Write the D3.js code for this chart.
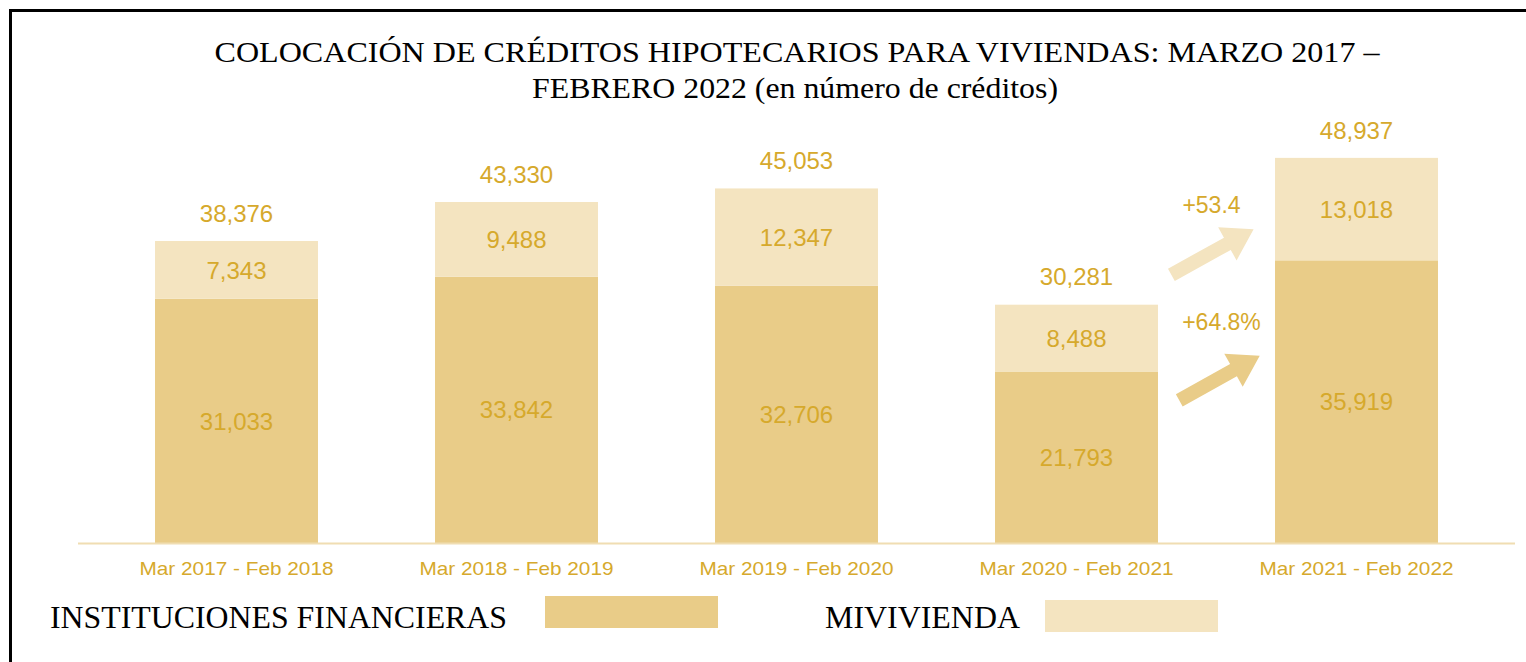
<!DOCTYPE html>
<html>
<head>
<meta charset="utf-8">
<script src="https://cdn.jsdelivr.net/npm/d3@7"></script>
<style>
  body { margin: 0; background: #fff; }
  svg { display: block; }
</style>
</head>
<body>
<div id="chart"></div>
<script>
// data
var periods = ["Mar 2017 - Feb 2018", "Mar 2018 - Feb 2019", "Mar 2019 - Feb 2020", "Mar 2020 - Feb 2021", "Mar 2021 - Feb 2022"];
var instituciones = [31033, 33842, 32706, 21793, 35919];
var mivivienda = [7343, 9488, 12347, 8488, 13018];
var totales = [38376, 43330, 45053, 30281, 48937];
var growthLabels = ["+53.4", "+64.8%"];

var width = 1526, height = 662;
var darkColor = "#e9cc88", lightColor = "#f4e4c0", textColor = "#d6a92c";

var svg = d3.select("#chart").append("svg")
	.attr("width", width)
	.attr("height", height);

// frame (only top and left edges visible)
svg.append("rect")
	.attr("x", 10.5).attr("y", 10.5)
	.attr("width", 1700).attr("height", 900)
	.attr("fill", "none")
	.attr("stroke", "#000")
	.attr("stroke-width", 3);

// title
var title = svg.append("text")
	.attr("text-anchor", "middle")
	.style("font-family", "'Liberation Serif', 'Times New Roman', serif")
	.style("font-size", "30px")
	.attr("fill", "#000");
title.append("tspan").attr("x", 797).attr("y", 62)
	.attr("textLength", 1165).attr("lengthAdjust", "spacingAndGlyphs")
	.text("COLOCACIÓN DE CRÉDITOS HIPOTECARIOS PARA VIVIENDAS: MARZO 2017 –");
title.append("tspan").attr("x", 795).attr("y", 98)
	.attr("textLength", 526).attr("lengthAdjust", "spacingAndGlyphs")
	.text("FEBRERO 2022 (en número de créditos)");

var x = d3.scaleBand()
	.domain(periods)
	.range([96.5, 1496.5])
	.paddingInner(0.418)
	.paddingOuter(0.209);
var y = d3.scaleLinear()
	.domain([0, 50000])
	.range([543, 149.5]);

var bw = x.bandwidth();

// bars
svg.selectAll(".inst")
	.data(periods)
	.enter().append("rect")
	.attr("class", "inst")
	.attr("x", function(d) { return x(d); })
	.attr("y", function(d, i) { return y(instituciones[i]); })
	.attr("width", bw)
	.attr("height", function(d, i) { return y(0) - y(instituciones[i]); })
	.attr("fill", darkColor);

svg.selectAll(".miv")
	.data(periods)
	.enter().append("rect")
	.attr("class", "miv")
	.attr("x", function(d) { return x(d); })
	.attr("y", function(d, i) { return y(instituciones[i] + mivivienda[i]); })
	.attr("width", bw)
	.attr("height", function(d, i) { return y(instituciones[i]) - y(instituciones[i] + mivivienda[i]); })
	.attr("fill", lightColor);

// x axis
var xAxis = svg.append("g")
	.attr("transform", "translate(0," + y(0) + ")")
	.call(d3.axisBottom(x).tickSize(0).tickPadding(19));
xAxis.select(".domain")
	.attr("d", "M78,0.5H1515")
	.attr("stroke", "#f0ddb2")
	.attr("stroke-width", 2);
xAxis.selectAll("text")
	.attr("fill", textColor)
	.attr("textLength", 194)
	.attr("lengthAdjust", "spacingAndGlyphs")
	.style("font-family", "'Liberation Sans', Arial, sans-serif")
	.style("font-size", "18.5px");

var fmt = d3.format(",");
function valueText(cls, yfn, textfn) {
	svg.selectAll("." + cls)
		.data(periods)
		.enter().append("text")
		.attr("class", cls)
		.attr("x", function(d) { return x(d) + bw / 2; })
		.attr("y", yfn)
		.attr("dy", "0.36em")
		.attr("text-anchor", "middle")
		.attr("fill", textColor)
		.style("font-family", "'Liberation Sans', Arial, sans-serif")
		.style("font-size", "24px")
		.text(textfn);
}
valueText("lbl-inst", function(d, i) { return (y(0) + y(instituciones[i])) / 2; },
	function(d, i) { return fmt(instituciones[i]); });
valueText("lbl-miv", function(d, i) { return (y(instituciones[i]) + y(totales[i])) / 2; },
	function(d, i) { return fmt(mivivienda[i]); });
valueText("lbl-tot", function(d, i) { return y(totales[i]) - 28; },
	function(d, i) { return fmt(totales[i]); });

// growth arrows between last two bars
var gapMid = (x(periods[3]) + bw + x(periods[4])) / 2;
function arrow(cx, cy, len, angle, color) {
	var sw = 7, hw = 19, hl = 30;
	var pts = [[-len / 2, -sw], [len / 2 - hl, -sw], [len / 2 - hl, -hw], [len / 2, 0],
		[len / 2 - hl, hw], [len / 2 - hl, sw], [-len / 2, sw]];
	svg.append("path")
		.attr("d", d3.line()(pts) + "Z")
		.attr("transform", "translate(" + cx + "," + cy + ") rotate(" + angle + ")")
		.attr("fill", color);
}
arrow(gapMid - 4, 252, 94, -29, lightColor);
arrow(gapMid + 3, 378, 92, -29, darkColor);

svg.selectAll(".growth")
	.data(growthLabels)
	.enter().append("text")
	.attr("class", "growth")
	.attr("x", function(d, i) { return gapMid + (i === 0 ? -5 : 5); })
	.attr("y", function(d, i) { return i === 0 ? 205 : 322; })
	.attr("dy", "0.36em")
	.attr("text-anchor", "middle")
	.attr("fill", textColor)
	.style("font-family", "'Liberation Sans', Arial, sans-serif")
	.style("font-size", "23px")
	.text(function(d) { return d; });

// legend
var legend = [
	{ name: "INSTITUCIONES FINANCIERAS", color: darkColor, tx: 50, tw: 457, rx: 545, ry: 596 },
	{ name: "MIVIVIENDA", color: lightColor, tx: 825, tw: 195, rx: 1045, ry: 600 }
];
legend.forEach(function(l) {
	svg.append("text")
		.attr("x", l.tx)
		.attr("y", 628)
		.attr("textLength", l.tw)
		.attr("lengthAdjust", "spacingAndGlyphs")
		.style("font-family", "'Liberation Serif', 'Times New Roman', serif")
		.style("font-size", "31px")
		.attr("fill", "#000")
		.text(l.name);
	svg.append("rect")
		.attr("x", l.rx).attr("y", l.ry)
		.attr("width", 173).attr("height", 32)
		.attr("fill", l.color);
});
</script>
</body>
</html>
